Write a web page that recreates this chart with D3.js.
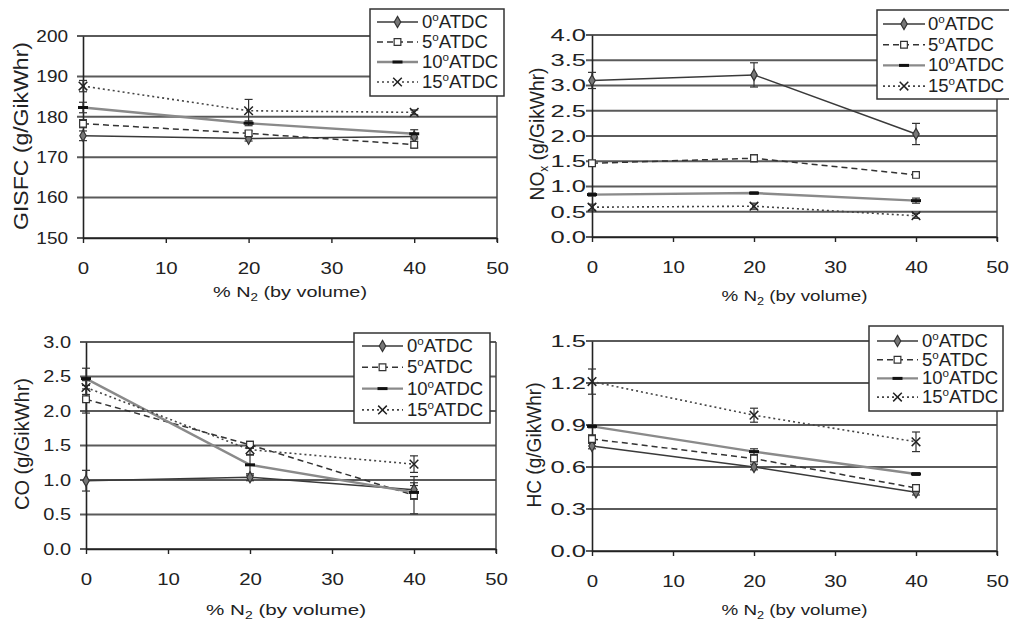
<!DOCTYPE html>
<html>
<head>
<meta charset="utf-8">
<script src="https://cdn.jsdelivr.net/npm/d3@7"></script>
<style>
  body { margin: 0; background: #fff; }
  svg { display: block; }
  text { font-family: "Liberation Sans", Arial, Helvetica, sans-serif; fill: #222; }
</style>
</head>
<body>
<svg id="chart" width="1009" height="623"></svg>
<script>
// Nitrogen dilution levels (x values) and injection timings (series)
const nitrogenPct = [0, 20, 40];
const timingLabels = ["0", "5", "10", "15"];
const xTicks = [0, 10, 20, 30, 40, 50];

// GISFC (g/GikWhr): mean and error per timing
const gisfcMean = [[175.3, 174.6, 175.1], [178.3, 175.9, 173.1], [182.3, 178.4, 175.8], [187.6, 181.5, 181.1]];
const gisfcErr  = [[1.2, 0.6, 0.6], [1.0, 0.6, 0.8], [1.3, 0.6, 1.0], [1.4, 2.8, 0.6]];
const gisfcTicks = [150, 160, 170, 180, 190, 200];

// NOx (g/GikWhr)
const noxMean = [[3.10, 3.21, 2.04], [1.46, 1.56, 1.23], [0.84, 0.87, 0.72], [0.59, 0.61, 0.42]];
const noxErr  = [[0.16, 0.24, 0.21], [0.05, 0.07, 0.04], [0.03, 0.02, 0.05], [0.06, 0.06, 0.05]];
const noxTicks = [0, 0.5, 1.0, 1.5, 2.0, 2.5, 3.0, 3.5, 4.0];

// CO (g/GikWhr)
const coMean = [[0.99, 1.04, 0.86], [2.17, 1.51, 0.78], [2.47, 1.22, 0.82], [2.34, 1.44, 1.23]];
const coErr  = [[0.15, 0.05, 0.10], [0.20, 0.05, 0.27], [0.15, 0.15, 0.10], [0.10, 0.08, 0.12]];
const coTicks = [0, 0.5, 1.0, 1.5, 2.0, 2.5, 3.0];

// HC (g/GikWhr)
const hcMean = [[0.75, 0.60, 0.42], [0.80, 0.66, 0.45], [0.89, 0.71, 0.55], [1.21, 0.97, 0.78]];
const hcErr  = [[0.02, 0.02, 0.02], [0.03, 0.02, 0.02], [0.01, 0.02, 0.01], [0.09, 0.05, 0.07]];
const hcTicks = [0, 0.3, 0.6, 0.9, 1.2, 1.5];

// Per-timing line and marker styles
const seriesStyle = [
  { stroke: "#3a3a3a", width: 1.5, dash: null,  marker: "diamond" },
  { stroke: "#333",    width: 1.5, dash: "6,4", marker: "square" },
  { stroke: "#8a8a8a", width: 2.4, dash: null,  marker: "bar" },
  { stroke: "#444",    width: 1.6, dash: "2,3", marker: "cross" }
];

const svg = d3.select("#chart");

function drawMarker(sel, kind) {
  if (kind === "diamond") {
    sel.append("path").attr("d", d3.symbol(d3.symbolDiamond, 36)())
      .attr("fill", "#777").attr("stroke", "#333").attr("stroke-width", 1.2);
  } else if (kind === "square") {
    sel.append("path").attr("d", d3.symbol(d3.symbolSquare, 45)())
      .attr("fill", "#fff").attr("stroke", "#333").attr("stroke-width", 1.2);
  } else if (kind === "bar") {
    sel.append("line").attr("x1", -5).attr("x2", 5)
      .attr("stroke", "#111").attr("stroke-width", 3);
  } else {
    sel.append("path").attr("d", d3.symbol(d3.symbolTimes || d3.symbolX, 50)())
      .attr("fill", "none").attr("stroke", "#222").attr("stroke-width", 1.5);
  }
}

function drawPanel(cfg) {
  const g = svg.append("g");
  const x = d3.scaleLinear().domain([0, 50]).range([cfg.x0, cfg.x1]);
  const y = d3.scaleLinear().domain([cfg.ticks[0], cfg.ticks[cfg.ticks.length - 1]]).range([cfg.yBottom, cfg.yTop]);

  // horizontal gridlines (extend a little left of the axis as ticks)
  g.append("g").selectAll("line").data(cfg.ticks).join("line")
    .attr("x1", cfg.x0 - 6).attr("x2", cfg.x1)
    .attr("y1", d => y(d)).attr("y2", d => y(d))
    .attr("stroke", "#5a5a5a").attr("stroke-width", 2);

  // right frame edge
  g.append("line").attr("x1", cfg.x1).attr("x2", cfg.x1)
    .attr("y1", cfg.yTop).attr("y2", cfg.yBottom + 4)
    .attr("stroke", "#444").attr("stroke-width", 1.5);

  // y axis
  const ya = g.append("g").attr("transform", `translate(${cfg.x0},0)`)
    .call(d3.axisLeft(y).tickValues(cfg.ticks).tickFormat(cfg.fmt)
      .tickSize(0).tickSizeOuter(0).tickPadding(cfg.yGap / cfg.ySx));
  ya.select(".domain").attr("stroke", "#222").attr("stroke-width", 1.6);
  ya.selectAll("text").attr("font-size", 16.5).attr("fill", "#222")
    .attr("transform", `scale(${cfg.ySx},1)`);

  // x axis
  const xa = g.append("g").attr("transform", `translate(0,${cfg.yBottom})`)
    .call(d3.axisBottom(x).tickValues(xTicks).tickSize(5).tickSizeOuter(0).tickPadding(19));
  xa.select(".domain").attr("stroke", "#222").attr("stroke-width", 1.6);
  xa.selectAll(".tick line").attr("stroke", "#222").attr("stroke-width", 1.4);
  xa.selectAll("text").attr("font-size", 16.5).attr("fill", "#222")
    .attr("transform", "scale(1.24,1)");

  // series lines
  const line = d3.line().x((d, i) => x(nitrogenPct[i])).y(d => y(d));
  cfg.mean.forEach((vals, s) => {
    const st = seriesStyle[s];
    g.append("path").datum(vals).attr("d", line)
      .attr("fill", "none").attr("stroke", st.stroke).attr("stroke-width", st.width)
      .attr("stroke-dasharray", st.dash);
  });

  // error bars
  cfg.mean.forEach((vals, s) => {
    vals.forEach((v, i) => {
      const e = cfg.err[s][i];
      const px = x(nitrogenPct[i]);
      const eb = g.append("g").attr("stroke", "#333").attr("stroke-width", 1.2);
      eb.append("line").attr("x1", px).attr("x2", px).attr("y1", y(v - e)).attr("y2", y(v + e));
      eb.append("line").attr("x1", px - 4).attr("x2", px + 4).attr("y1", y(v - e)).attr("y2", y(v - e));
      eb.append("line").attr("x1", px - 4).attr("x2", px + 4).attr("y1", y(v + e)).attr("y2", y(v + e));
    });
  });

  // markers
  cfg.mean.forEach((vals, s) => {
    vals.forEach((v, i) => {
      const m = g.append("g").attr("transform", `translate(${x(nitrogenPct[i])},${y(v)})`);
      drawMarker(m, seriesStyle[s].marker);
    });
  });

  // y title (rotated)
  const yt = g.append("text")
    .attr("transform", `translate(${cfg.yTitleX},${cfg.yTitleY}) rotate(-90)`)
    .attr("text-anchor", "middle").attr("font-size", 19.5)
    .attr("textLength", cfg.yTitleLen).attr("lengthAdjust", "spacingAndGlyphs");
  yt.append("tspan").text(cfg.yTitle[0]);
  if (cfg.yTitle[1]) {
    yt.append("tspan").attr("font-size", 12).attr("dy", 4).text(cfg.yTitle[1]);
    yt.append("tspan").attr("dy", -4).text(cfg.yTitle[2]);
  }

  // x title
  const xt = g.append("text")
    .attr("x", (cfg.x0 + cfg.x1) / 2 + cfg.xTitleDx).attr("y", cfg.xTitleY)
    .attr("text-anchor", "middle").attr("font-size", 15.5)
    .attr("textLength", cfg.xTitleLen).attr("lengthAdjust", "spacingAndGlyphs");
  xt.append("tspan").text("% N");
  xt.append("tspan").attr("font-size", 10.5).attr("dy", 4).text("2");
  xt.append("tspan").attr("dy", -4).text(" (by volume)");

  // legend
  const L = cfg.legend;
  const lg = g.append("g");
  lg.append("rect").attr("x", L.x).attr("y", L.y).attr("width", L.w).attr("height", L.h)
    .attr("fill", "#fff").attr("stroke", "#333").attr("stroke-width", 1.5);
  timingLabels.forEach((lab, s) => {
    const st = seriesStyle[s];
    const cy = L.y + L.first + s * L.step;
    lg.append("line").attr("x1", L.lx0).attr("x2", L.lx1).attr("y1", cy).attr("y2", cy)
      .attr("stroke", st.stroke).attr("stroke-width", st.width).attr("stroke-dasharray", st.dash);
    const m = lg.append("g").attr("transform", `translate(${(L.lx0 + L.lx1) / 2},${cy})`);
    drawMarker(m, st.marker);
    const t = lg.append("text").attr("transform", `translate(${L.tx},${cy + 6}) scale(1.06,1)`)
      .attr("font-size", 17.5);
    t.append("tspan").text(lab);
    t.append("tspan").attr("font-size", 11).attr("dy", -7).text("o");
    t.append("tspan").attr("dy", 7).text("ATDC");
  });
}

drawPanel({
  x0: 83, x1: 497, yTop: 36, yBottom: 238,
  ticks: gisfcTicks, fmt: d3.format("d"), yGap: 15, ySx: 1.15,
  mean: gisfcMean, err: gisfcErr,
  yTitle: ["GISFC (g/GikWhr)"], yTitleX: 28, yTitleY: 136, yTitleLen: 188,
  xTitleY: 297, xTitleDx: 0, xTitleLen: 154,
  legend: { x: 370, y: 9, w: 134, h: 87, first: 13, step: 20, lx0: 377, lx1: 418, tx: 422 }
});

drawPanel({
  x0: 592, x1: 997, yTop: 35, yBottom: 237,
  ticks: noxTicks, fmt: d3.format(".1f"), yGap: 6, ySx: 1.55,
  mean: noxMean, err: noxErr,
  yTitle: ["NO", "x", " (g/GikWhr)"], yTitleX: 544, yTitleY: 134, yTitleLen: 133,
  xTitleY: 301, xTitleDx: 0, xTitleLen: 146,
  legend: { x: 877, y: 10, w: 134, h: 89, first: 14, step: 20.7, lx0: 883, lx1: 925, tx: 928 }
});

drawPanel({
  x0: 86, x1: 496, yTop: 342, yBottom: 549,
  ticks: coTicks, fmt: d3.format(".1f"), yGap: 15, ySx: 1.21,
  mean: coMean, err: coErr,
  yTitle: ["CO (g/GikWhr)"], yTitleX: 29, yTitleY: 444, yTitleLen: 132,
  xTitleY: 615, xTitleDx: -5, xTitleLen: 160,
  legend: { x: 354, y: 333, w: 136, h: 90, first: 13, step: 21.3, lx0: 362, lx1: 403, tx: 407 }
});

drawPanel({
  x0: 592, x1: 997, yTop: 341, yBottom: 551,
  ticks: hcTicks, fmt: d3.format(".1f"), yGap: 6, ySx: 1.55,
  mean: hcMean, err: hcErr,
  yTitle: ["HC (g/GikWhr)"], yTitleX: 541, yTitleY: 445, yTitleLen: 125,
  xTitleY: 615, xTitleDx: 0, xTitleLen: 146,
  legend: { x: 869, y: 326, w: 134, h: 85, first: 15, step: 18.7, lx0: 877, lx1: 918, tx: 922 }
});
</script>
</body>
</html>
